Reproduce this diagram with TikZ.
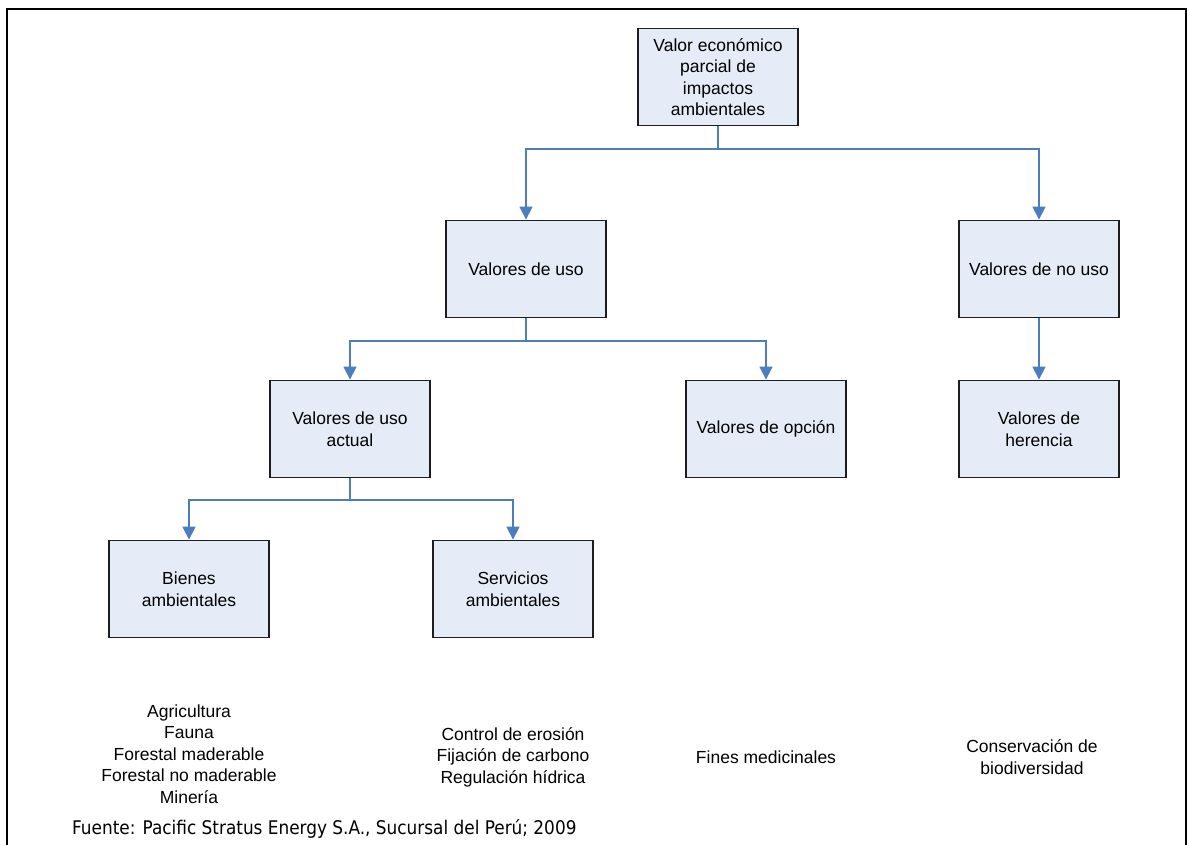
\documentclass[tikz,border=0pt]{standalone}
\usepackage{fontspec}
\setmainfont{Liberation Sans}
\newfontfamily\notefont{DejaVu Sans Condensed}
\usetikzlibrary{arrows.meta}
\definecolor{boxfill}{RGB}{230,236,247}
\definecolor{linkblue}{RGB}{74,126,190}
\definecolor{boxline}{RGB}{30,30,30}
\tikzset{
  valbox/.style={draw=boxline, line width=1.8pt, fill=boxfill, minimum width=160pt,
    minimum height=97pt, inner sep=0pt, align=center,
    font=\fontsize{17.5}{21.5}\selectfont},
  link/.style={draw=linkblue, line width=1.5pt},
  linkarrow/.style={link, -{Triangle[width=13pt,length=13pt]}},
  listtext/.style={align=center, inner sep=0pt, font=\fontsize{17.5}{21.5}\selectfont}
}
\begin{document}
\begin{tikzpicture}[x=1pt,y=-1pt]
\useasboundingbox (0,0) rectangle (1187,845);
% outer frame (open at the bottom)
\draw[line width=2.5pt] (7,845) -- (7,9) -- (1186,9) -- (1186,845);

% boxes
\node[valbox] (root)   at (718,77)  {Valor económico\\parcial de\\impactos\\ambientales};
\node[valbox] (uso)    at (526,269) {Valores de uso};
\node[valbox] (nouso)  at (1039,269) {Valores de no uso};
\node[valbox] (actual) at (350,429) {Valores de uso\\actual};
\node[valbox] (opcion) at (766,429) {Valores de opción};
\node[valbox] (herencia) at (1039,429) {Valores de\\herencia};
\node[valbox] (bienes) at (189,589) {Bienes\\ambientales};
\node[valbox] (servicios) at (513,589) {Servicios\\ambientales};

% connectors
\coordinate (j1) at (718,149);
\coordinate (j2) at (526,341);
\coordinate (j3) at (350,500);
\draw[link] (root.south) -- (j1);
\draw[linkarrow] (j1) -| (uso.north);
\draw[linkarrow] (j1) -| (nouso.north);
\draw[link] (uso.south) -- (j2);
\draw[linkarrow] (j2) -| (actual.north);
\draw[linkarrow] (j2) -| (opcion.north);
\draw[linkarrow] (nouso.south) -- (herencia.north);
\draw[link] (actual.south) -- (j3);
\draw[linkarrow] (j3) -| (bienes.north);
\draw[linkarrow] (j3) -| (servicios.north);

% examples under each branch
\node[listtext] (ex1) at (189,754) {Agricultura\\Fauna\\Forestal maderable\\Forestal no maderable\\Minería};
\node[listtext] (ex2) at (513,757) {Control de erosión\\Fijación de carbono\\Regulación hídrica};
\node[listtext] (ex3) at (766,757) {Fines medicinales};
\node[listtext] (ex4) at (1032,757) {Conservación de\\biodiversidad};

% source
\node[anchor=west, inner sep=0pt, font=\notefont\fontsize{18.8}{22}\selectfont] (src) at (72,829)
  {Fuente: Pacific Stratus Energy S.A., Sucursal del Perú; 2009};
\end{tikzpicture}
\end{document}
